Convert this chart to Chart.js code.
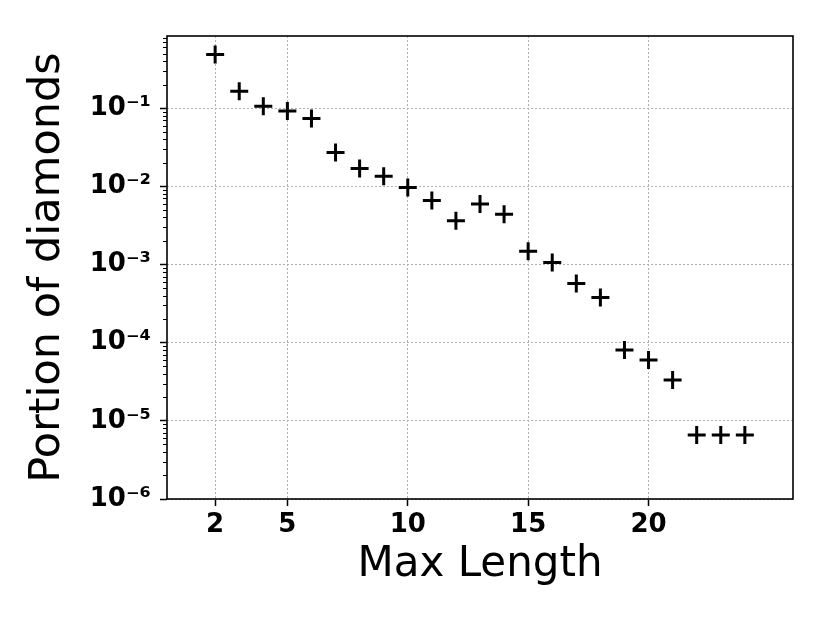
<!DOCTYPE html>
<html>
<head>
<meta charset="utf-8">
<script src="https://cdn.jsdelivr.net/npm/chart.js@4/dist/chart.umd.min.js"></script>
<style>
  html, body { margin: 0; padding: 0; background: #fff; }
</style>
</head>
<body>
<canvas id="lengthChart" width="830" height="623"></canvas>
<script>
// data
const maxLengths = [2, 3, 4, 5, 6, 7, 8, 9, 10, 11, 12, 13, 14, 15, 16, 17, 18, 19, 20, 21, 22, 23, 24];
const portions = [0.486, 0.165, 0.106, 0.092, 0.0738, 0.0271, 0.0169, 0.0135, 0.0097, 0.0066, 0.00364,
  0.00596, 0.0044, 0.00148, 0.00106, 0.000571, 0.000378, 0.0000807, 0.000060, 0.0000334,
  0.0000066, 0.0000066, 0.0000066];
const xTicks = [2, 5, 10, 15, 20];
const yTicks = [1e-6, 1e-5, 1e-4, 1e-3, 1e-2, 1e-1];

const supers = { '-': '\u207B', '0': '\u2070', '1': '\u00B9', '2': '\u00B2', '3': '\u00B3',
  '4': '\u2074', '5': '\u2075', '6': '\u2076', '7': '\u2077', '8': '\u2078', '9': '\u2079' };

function powLabel(v) {
  const e = String(Math.round(Math.log10(v)));
  return '10' + e.split('').map(c => supers[c]).join('');
}

// frame around the axes + minor ticks on the log axis
const framePlugin = {
  id: 'frame',
  afterDatasetsDraw(chart) {
    const ctx = chart.ctx;
    const a = chart.chartArea;
    const y = chart.scales.y;
    ctx.save();
    ctx.strokeStyle = '#000';
    ctx.lineWidth = 1;
    for (let k = -6; k <= 0; k++) {
      for (let m = 2; m <= 9; m++) {
        const v = m * Math.pow(10, k);
        if (v > y.max) continue;
        const py = Math.round(y.getPixelForValue(v)) + 0.5;
        ctx.beginPath();
        ctx.moveTo(a.left - 4, py);
        ctx.lineTo(a.left, py);
        ctx.stroke();
      }
    }
    ctx.lineWidth = 1.6;
    ctx.strokeRect(a.left, a.top, a.right - a.left, a.bottom - a.top);
    ctx.restore();
  }
};

const ctx = document.getElementById('lengthChart').getContext('2d');
new Chart(ctx, {
  type: 'scatter',
  data: {
    datasets: [{
      data: maxLengths.map((x, i) => ({ x: x, y: portions[i] })),
      pointStyle: 'cross',
      pointRadius: 9,
      pointHoverRadius: 9,
      borderColor: '#000',
      backgroundColor: '#000',
      borderWidth: 3
    }]
  },
  options: {
    responsive: false,
    animation: false,
    devicePixelRatio: 1,
    layout: { padding: { left: 0, top: 36, right: 37, bottom: 0 } },
    plugins: { legend: { display: false }, tooltip: { enabled: false } },
    scales: {
      x: {
        type: 'linear',
        min: 0,
        max: 26,
        afterBuildTicks: s => { s.ticks = xTicks.map(v => ({ value: v })); },
        afterFit: s => { s.height = 124; },
        grid: {
          color: '#b0b0b0',
          lineWidth: 1,
          tickColor: '#000',
          tickWidth: 1.5,
          tickLength: 7,
          tickBorderDash: []
        },
        border: { display: false, dash: [2, 2] },
        ticks: {
          color: '#000',
          padding: 4,
          maxRotation: 0,
          font: { family: 'DejaVu Sans', size: 26, weight: 'bold' }
        },
        title: {
          display: true,
          text: 'Max Length',
          color: '#000',
          padding: { top: 0, bottom: 33 },
          font: { family: 'DejaVu Sans', size: 42, weight: 'normal' }
        }
      },
      y: {
        type: 'logarithmic',
        min: 1e-6,
        max: 0.84,
        afterBuildTicks: s => { s.ticks = yTicks.map(v => ({ value: v, major: true })); },
        afterFit: s => { s.width = 167; },
        grid: {
          color: '#b0b0b0',
          lineWidth: 1,
          tickColor: '#000',
          tickWidth: 1.5,
          tickLength: 7,
          tickBorderDash: []
        },
        border: { display: false, dash: [2, 2] },
        ticks: {
          color: '#000',
          padding: 9,
          font: { family: 'DejaVu Sans', size: 26, weight: 'bold' },
          callback: v => powLabel(v)
        },
        title: {
          display: true,
          text: 'Portion of diamonds',
          color: '#000',
          padding: { top: 22, bottom: 0 },
          font: { family: 'DejaVu Sans', size: 43, weight: 'normal' }
        }
      }
    }
  },
  plugins: [framePlugin]
});
</script>
</body>
</html>
